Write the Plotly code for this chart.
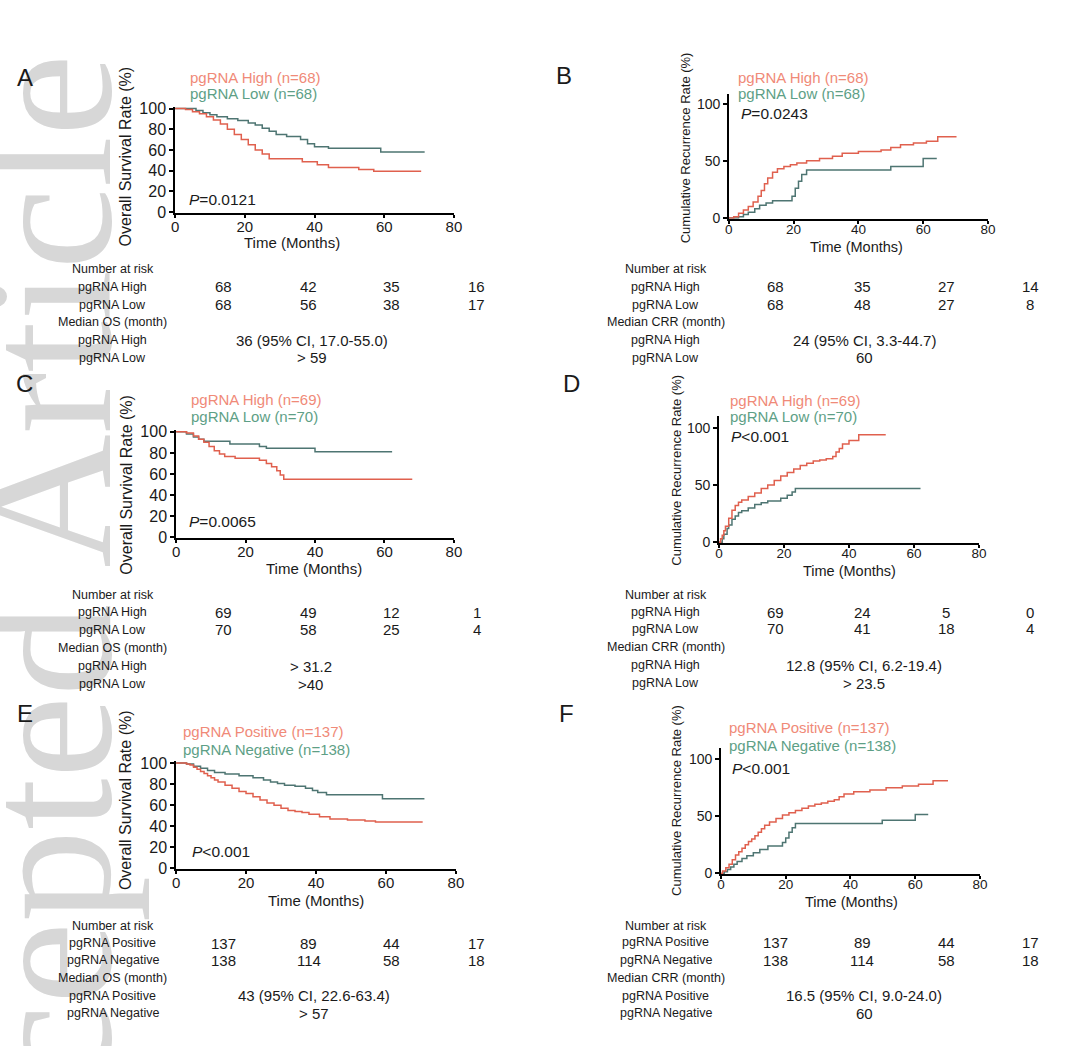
import plotly.graph_objects as go

W, H = 1080, 1046
FONT = "Liberation Sans, Arial, sans-serif"
RED_LINE = "#e0604e"
GREEN_LINE = "#4e7572"
RED_TXT = "#f08a78"
GREEN_TXT = "#5e9f86"
BLACK = "#1a1a1a"

# ---------------- data ----------------
A_high_t = [0, 3, 5, 7, 9, 11, 13, 15, 17, 19, 21, 23, 25, 27, 36.5, 40.8, 44, 52.7, 57, 70.6]
A_high_v = [100, 99, 97, 95, 92, 89, 85, 80, 75, 70, 65, 60, 56, 51.5, 48.5, 45.7, 43, 41, 39.4, 39.4]
A_low_t = [0, 6, 8, 10, 12, 15, 18, 21, 23, 25, 27, 29, 32, 36, 38, 40, 44, 59, 71.6]
A_low_v = [100, 98, 96, 94, 92, 90, 88.5, 86, 84, 81, 78, 75, 73, 70, 66, 63, 61.5, 58, 58]

B_high_t = [0, 1.5, 3, 4.5, 6, 7.5, 9, 10, 11, 12, 13.5, 15, 17, 19, 21, 24, 28, 32, 35, 40, 47, 50, 53, 57, 61, 64.5, 70.3]
B_high_v = [0, 1, 4, 7, 10, 14, 19, 24, 30, 35, 40, 43, 45, 46.5, 48, 50, 52, 54, 56.5, 58, 59.5, 61.5, 64, 65.5, 67, 71, 71]
B_low_t = [0, 3, 4.5, 6, 8, 9.5, 11.5, 13.5, 19.5, 20.5, 21.5, 22.5, 24, 50, 60, 64.2]
B_low_v = [0, 1, 3, 5, 8, 11, 13, 15, 19, 26, 32, 38, 42, 45, 52, 52]

C_high_t = [0, 3, 5, 6.5, 8, 9.5, 11, 12.5, 14, 17, 24, 26, 27.5, 29, 30, 31, 68]
C_high_v = [100, 99, 96, 93, 90, 86, 82, 79, 76.5, 75, 73, 70, 67, 63, 59, 55, 55]
C_low_t = [0, 3, 5, 6.5, 8, 15.5, 24, 26, 40, 62.2]
C_low_v = [100, 98, 95, 93, 91, 88.5, 86, 84.5, 81, 81]

D_high_t = [0, 0.5, 1, 1.5, 2, 3, 4, 5, 6, 7, 9, 11, 13, 15, 17, 19, 21, 23, 25, 27, 29, 31, 33, 35, 36, 37, 38, 40, 43, 51.3]
D_high_v = [0, 3, 6, 10, 14, 21, 28, 32, 35, 37, 40, 43, 47, 50, 54, 58, 61, 64, 67, 69, 71, 72, 73, 75, 79, 82, 86, 89, 94, 94]
D_low_t = [0, 1, 1.5, 2.5, 3, 4, 5, 6, 7, 9, 11, 13, 15, 19, 21, 22.5, 23.5, 62]
D_low_v = [0, 3, 7, 12, 15, 20, 23, 26, 27.5, 30, 33, 34.5, 36, 38.5, 41, 44, 47, 47]

E_pos_t = [0, 3, 4, 5, 6, 7, 8, 9, 10, 11, 12, 14, 16, 18, 20, 22, 24, 26, 28, 30, 32, 34, 36, 38, 41, 44, 49, 54, 57, 70.5]
E_pos_v = [100, 99, 98, 96, 94, 92, 90, 88, 86, 84, 82, 79, 76, 73, 71, 68, 65, 62, 60, 57, 55, 54, 53, 51.5, 49, 47, 46, 45, 44, 44]
E_neg_t = [0, 3, 5, 7, 9, 11, 14, 18, 22, 25, 27, 29, 31, 34, 37, 39, 40.5, 43, 59, 71]
E_neg_v = [100, 99, 97, 95, 93, 91, 89.5, 88, 86, 84, 82, 80.5, 79, 78, 76, 74, 72, 70, 66, 66]

F_pos_t = [0, 0.5, 1.5, 2.5, 3.5, 4.5, 5.5, 6.5, 7.5, 8.5, 9.5, 10.5, 11.5, 12.5, 13.5, 15, 17, 19, 21, 23, 25, 27, 29, 31, 33, 35, 36.5, 38, 41, 46, 51, 56, 61, 65.5, 70.1]
F_pos_v = [0, 2, 5, 8, 12, 16, 19, 22, 25, 28, 30, 33, 36, 39, 42, 45, 48, 51, 53, 55, 57, 59, 60.5, 61.5, 63, 64.5, 67, 69.5, 71.5, 73, 75, 76.5, 78, 81, 81]
F_neg_t = [0, 1, 2, 3, 4, 5, 6.5, 8, 10, 12, 14.5, 19, 20, 21, 22, 23, 49.8, 60, 64]
F_neg_v = [0, 1.5, 3.5, 5.5, 8, 10.5, 13, 15.5, 18, 21, 24, 27, 31, 36, 40, 43.7, 46.5, 51.4, 51.4]

time_ticks = [0, 20, 40, 60, 80]
os_ticks = [0, 20, 40, 60, 80, 100]
crr_ticks = [0, 50, 100]

A_risk_high = ["68", "42", "35", "16"]
A_risk_low = ["68", "56", "38", "17"]
B_risk_high = ["68", "35", "27", "14"]
B_risk_low = ["68", "48", "27", "8"]
C_risk_high = ["69", "49", "12", "1"]
C_risk_low = ["70", "58", "25", "4"]
D_risk_high = ["69", "24", "5", "0"]
D_risk_low = ["70", "41", "18", "4"]
E_risk_pos = ["137", "89", "44", "17"]
E_risk_neg = ["138", "114", "58", "18"]
F_risk_pos = ["137", "89", "44", "17"]
F_risk_neg = ["138", "114", "58", "18"]

# ---------------- layout helpers ----------------
def px(x):
    return x / W

def py(y):
    return 1 - y / H

annotations = []

def txt(x, y, s, size, color=BLACK, xanchor="center", yanchor="middle", angle=0, family=FONT):
    annotations.append(dict(x=px(x), y=py(y), xref="paper", yref="paper", text=s,
                            showarrow=False, xanchor=xanchor, yanchor=yanchor,
                            textangle=angle, font=dict(family=family, size=size, color=color)))

# Watermark first so that all other text is drawn above it
txt(150, 46, "Accepted Article", 185, color="#d7d7d7", xanchor="right", yanchor="top",
    angle=-90, family="Liberation Serif, Times New Roman, serif")

panels = [
    dict(letter="A", lx=21, ly=72, kind="os", x0=173, x80=455, y0=208, y100=103, ymax=101.5,
         s1=(A_high_t, A_high_v), s2=(A_low_t, A_low_v),
         leg1="pgRNA High (n=68)", leg2="pgRNA Low (n=68)", legx=186, legy1=72, legy2=88,
         ptxt="<i>P</i>=0.0121", pxy=(185, 195), ytx=123, yty=152, xtx=291, xty=239),
    dict(letter="B", lx=566, ly=70, kind="crr", x0=733, x80=995, y0=214, y100=98, ymax=108,
         s1=(B_high_t, B_high_v), s2=(B_low_t, B_low_v),
         leg1="pgRNA High (n=68)", leg2="pgRNA Low (n=68)", legx=740, legy1=72, legy2=88,
         ptxt="<i>P</i>=0.0243", pxy=(743, 108), ytx=690, yty=143, xtx=862, xty=243),
    dict(letter="C", lx=21, ly=382, kind="os", x0=174, x80=455, y0=538, y100=431, ymax=101.5,
         s1=(C_high_t, C_high_v), s2=(C_low_t, C_low_v),
         leg1="pgRNA High (n=69)", leg2="pgRNA Low (n=70)", legx=187, legy1=398, legy2=415,
         ptxt="<i>P</i>=0.0065", pxy=(185, 522), ytx=123, yty=485, xtx=313, xty=570),
    dict(letter="D", lx=574, ly=382, kind="crr", x0=723, x80=986, y0=543, y100=427, ymax=110,
         s1=(D_high_t, D_high_v), s2=(D_low_t, D_low_v),
         leg1="pgRNA High (n=69)", leg2="pgRNA Low (n=70)", legx=732, legy1=399, legy2=415,
         ptxt="<i>P</i>&lt;0.001", pxy=(733, 436), ytx=680, yty=470, xtx=855, xty=572),
    dict(letter="E", lx=21, ly=717, kind="os", x0=174, x80=457, y0=874, y100=767, ymax=101.5,
         s1=(E_pos_t, E_pos_v), s2=(E_neg_t, E_neg_v),
         leg1="pgRNA Positive (n=137)", leg2="pgRNA Negative (n=138)", legx=179, legy1=735, legy2=753,
         ptxt="<i>P</i>&lt;0.001", pxy=(188, 857), ytx=123, yty=805, xtx=316, xty=906),
    dict(letter="F", lx=569, ly=717, kind="crr", x0=725, x80=987, y0=879, y100=763, ymax=110,
         s1=(F_pos_t, F_pos_v), s2=(F_neg_t, F_neg_v),
         leg1="pgRNA Positive (n=137)", leg2="pgRNA Negative (n=138)", legx=731, legy1=731, legy2=749,
         ptxt="<i>P</i>&lt;0.001", pxy=(734, 773), ytx=680, yty=805, xtx=857, xty=908),
]

fig = go.Figure()
layout = dict(width=W, height=H, margin=dict(l=0, r=0, t=0, b=0),
              paper_bgcolor="white", plot_bgcolor="white", showlegend=False)

YMIN = -0.8
for i, p in enumerate(panels):
    n = "" if i == 0 else str(i + 1)
    k = (p["y0"] - p["y100"]) / 100.0
    top = p["y0"] - p["ymax"] * k
    bot = p["y0"] - YMIN * k
    os_kind = p["kind"] == "os"
    ax = dict(domain=[px(p["x0"]), px(p["x80"])], range=[0, 80], tickvals=time_ticks,
              showline=True, linecolor="black", linewidth=1.6, ticks="outside", ticklen=3,
              tickwidth=1.6, tickcolor="black", showgrid=False, zeroline=False,
              ticklabelstandoff=-4 if os_kind else -6,
              tickfont=dict(family=FONT, size=15 if os_kind else 13.5, color=BLACK),
              anchor="y" + n, fixedrange=True)
    ay = dict(domain=[py(bot), py(top)], range=[YMIN, p["ymax"]],
              tickvals=os_ticks if os_kind else crr_ticks,
              showline=True, linecolor="black", linewidth=1.6, ticks="outside", ticklen=4,
              tickwidth=1.6, tickcolor="black", showgrid=False, zeroline=False,
              tickfont=dict(family=FONT, size=16 if os_kind else 14, color=BLACK),
              anchor="x" + n, fixedrange=True)
    layout["xaxis" + n] = ax
    layout["yaxis" + n] = ay
    for (t, v), col in ((p["s2"], GREEN_LINE), (p["s1"], RED_LINE)):
        fig.add_trace(go.Scatter(x=t, y=v, mode="lines", line=dict(color=col, width=1.5, shape="hv"),
                                 xaxis="x" + n, yaxis="y" + n, hoverinfo="skip"))
    # texts
    txt(p["lx"], p["ly"], p["letter"], 24)
    txt(p["legx"], p["legy1"], p["leg1"], 15, color=RED_TXT, xanchor="left")
    txt(p["legx"], p["legy2"], p["leg2"], 15, color=GREEN_TXT, xanchor="left")
    txt(p["pxy"][0], p["pxy"][1], p["ptxt"], 15.5, xanchor="left")
    if os_kind:
        txt(p["ytx"], p["yty"], "Overall Survival Rate (%)", 16, angle=-90)
    else:
        txt(p["ytx"], p["yty"], "Cumulative Recurrence Rate (%)", 13, angle=-90)
    txt(p["xtx"], p["xty"], "Time (Months)", 15 if os_kind else 14.5)

# ---------------- tables ----------------
tables = [
    dict(cx=110, vx=[222, 308, 392, 478], y=[266, 284, 302, 320, 338, 356],
         labels=["Number at risk", "pgRNA High", "pgRNA Low", "Median OS (month)", "pgRNA High", "pgRNA Low"],
         r1=A_risk_high, r2=A_risk_low, m1="36 (95% CI, 17.0-55.0)", m2="&gt; 59", mx=311),
    dict(cx=669, vx=[780, 868, 953, 1038], y=[266, 284, 302, 320, 338, 356],
         labels=["Number at risk", "pgRNA High", "pgRNA Low", "Median CRR (month)", "pgRNA High", "pgRNA Low"],
         r1=B_risk_high, r2=B_risk_low, m1="24 (95% CI, 3.3-44.7)", m2="60", mx=870),
    dict(cx=110, vx=[222, 308, 392, 478], y=[597, 614, 632, 650, 669, 687],
         labels=["Number at risk", "pgRNA High", "pgRNA Low", "Median OS (month)", "pgRNA High", "pgRNA Low"],
         r1=C_risk_high, r2=C_risk_low, m1="&gt; 31.2", m2="&gt;40", mx=310),
    dict(cx=669, vx=[780, 868, 953, 1038], y=[597, 614, 631, 649, 668, 686],
         labels=["Number at risk", "pgRNA High", "pgRNA Low", "Median CRR (month)", "pgRNA High", "pgRNA Low"],
         r1=D_risk_high, r2=D_risk_low, m1="12.8 (95% CI, 6.2-19.4)", m2="&gt; 23.5", mx=870),
    dict(cx=110, vx=[222, 308, 392, 478], y=[932, 950, 967, 985, 1003, 1021],
         labels=["Number at risk", "pgRNA Positive", "pgRNA Negative", "Median OS (month)", "pgRNA Positive", "pgRNA Negative"],
         r1=E_risk_pos, r2=E_risk_neg, m1="43 (95% CI, 22.6-63.4)", m2="&gt; 57", mx=313),
    dict(cx=669, vx=[780, 868, 953, 1038], y=[932, 949, 967, 985, 1003, 1021],
         labels=["Number at risk", "pgRNA Positive", "pgRNA Negative", "Median CRR (month)", "pgRNA Positive", "pgRNA Negative"],
         r1=F_risk_pos, r2=F_risk_neg, m1="16.5 (95% CI, 9.0-24.0)", m2="60", mx=870),
]

for tb in tables:
    for lab, yy in zip(tb["labels"], tb["y"]):
        txt(tb["cx"], yy, lab, 12.5)
    for xx, a, b in zip(tb["vx"], tb["r1"], tb["r2"]):
        txt(xx, tb["y"][1], a, 15)
        txt(xx, tb["y"][2], b, 15)
    txt(tb["mx"], tb["y"][4], tb["m1"], 15)
    txt(tb["mx"], tb["y"][5], tb["m2"], 15)

layout["annotations"] = annotations
fig.update_layout(**layout)
fig.write_html("out.html")
